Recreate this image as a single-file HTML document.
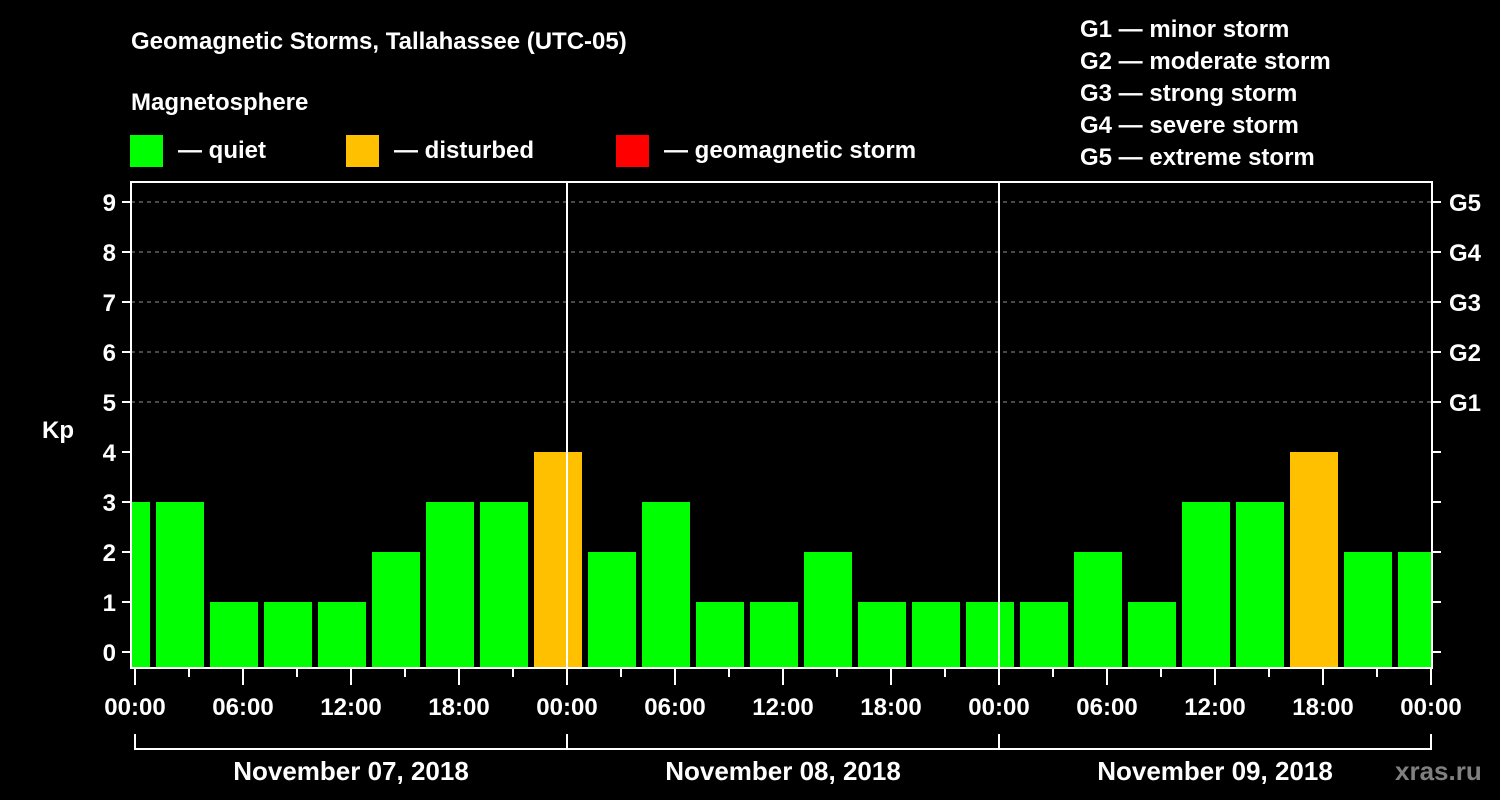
<!DOCTYPE html>
<html><head><meta charset="utf-8"><style>
html,body{margin:0;padding:0;background:#000;}
svg{display:block;font-family:"Liberation Sans",Arial,sans-serif;font-weight:bold;}
</style></head><body>
<svg id="chart" width="1500" height="800" viewBox="0 0 1500 800">
<rect width="1500" height="800" fill="#000"/>
<text x="131" y="49" fill="#fff" font-size="24">Geomagnetic Storms, Tallahassee (UTC-05)</text>
<text x="131" y="110" fill="#fff" font-size="24">Magnetosphere</text>
<g><rect x="130" y="135" width="33" height="32" fill="#00ff00"/><text x="178" y="158" fill="#fff" font-size="24">— quiet</text></g>
<g><rect x="346" y="135" width="33" height="32" fill="#ffc000"/><text x="394" y="158" fill="#fff" font-size="24">— disturbed</text></g>
<g><rect x="616" y="135" width="33" height="32" fill="#ff0000"/><text x="664" y="158" fill="#fff" font-size="24">— geomagnetic storm</text></g>
<g fill="#fff" font-size="24">
<text x="1080" y="37">G1 — minor storm</text>
<text x="1080" y="69">G2 — moderate storm</text>
<text x="1080" y="101">G3 — strong storm</text>
<text x="1080" y="133">G4 — severe storm</text>
<text x="1080" y="165">G5 — extreme storm</text>
</g>
<text x="42" y="438" fill="#fff" font-size="24">Kp</text>
<g id="grid"></g>
<g id="bars"></g>
<g id="axes"></g>
<text x="1395" y="780" fill="#808080" font-size="26">xras.ru</text>
</svg>
<script>
const kpValues = [3,3,1,1,1,2,3,3,4,2,3,1,1,2,1,1,1,1,2,1,3,3,4,2,2];
const startHour = -0.5; // first bar centre, hours from Nov 07 00:00 (local)
const yTicks = [0,1,2,3,4,5,6,7,8,9];
const gLabels = ["G1","G2","G3","G4","G5"];
const xTickLabels = ["00:00","06:00","12:00","18:00","00:00","06:00","12:00","18:00","00:00","06:00","12:00","18:00","00:00"];
const dayLabels = ["November 07, 2018","November 08, 2018","November 09, 2018"];

const NS="http://www.w3.org/2000/svg";
const L=131,R=1432,T=182,B=668;
const x=h=>135+18*h;
const y=v=>652-50*v;
function mk(tag,attrs,parent,text){const e=document.createElementNS(NS,tag);for(const k in attrs)e.setAttribute(k,attrs[k]);if(text!==undefined)e.textContent=text;parent.appendChild(e);return e;}
const grid=document.getElementById('grid'),bars=document.getElementById('bars'),axes=document.getElementById('axes');
const clip=mk('clipPath',{id:'pc'},document.getElementById('chart'));
mk('rect',{x:L+1,y:T,width:R-L-1,height:B-T},clip);
bars.setAttribute('clip-path','url(#pc)');
yTicks.forEach(v=>{
  if(v>=5){const g=mk('line',{x1:L,x2:R,y1:y(v),y2:y(v),stroke:'#909090','stroke-width':1,'stroke-dasharray':'4,4'},grid);
  }
  const t=mk('line',{x1:122,x2:L,y1:y(v),y2:y(v),stroke:'#fff','stroke-width':2},axes);
  
  const t2=mk('line',{x1:R,x2:1441,y1:y(v),y2:y(v),stroke:'#fff','stroke-width':2},axes);
  
  const lb=mk('text',{x:116,y:y(v)+9,fill:'#fff','font-size':24,'text-anchor':'end'},axes,String(v));
  
  if(v>=5){const gl=mk('text',{x:1449,y:y(v)+9,fill:'#fff','font-size':24},axes,gLabels[v-5]);
  }
});
kpValues.forEach((v,i)=>{
  const c=x(startHour+3*i);
  const col=v>=5?'#ff0000':(v>=4?'#ffc000':'#00ff00');
  const r=mk('rect',{x:c-24,y:y(v),width:48,height:B-y(v),fill:col},bars);
  
  
});
const fr=mk('rect',{x:L,y:T,width:R-L,height:B-T,fill:'none',stroke:'#fff','stroke-width':2},axes);

[1,2].forEach(d=>{const l=mk('line',{x1:x(24*d),x2:x(24*d),y1:T,y2:B,stroke:'#fff','stroke-width':2},axes);
});
for(let h=0;h<=72;h+=3){
  const t=mk('line',{x1:x(h),x2:x(h),y1:B,y2:h%6===0?685:677,stroke:'#fff','stroke-width':2},axes);
  
}
xTickLabels.forEach((s,i)=>{const t=mk('text',{x:x(6*i),y:715,fill:'#fff','font-size':24,'text-anchor':'middle'},axes,s);
});
const br=mk('path',{d:`M${x(0)} 734 V749 H${x(72)} V734 M${x(24)} 734 V749 M${x(48)} 734 V749`,fill:'none',stroke:'#fff','stroke-width':2},axes);

dayLabels.forEach((s,i)=>{const t=mk('text',{x:x(24*i+12),y:780,fill:'#fff','font-size':26,'text-anchor':'middle'},axes,s);
});
</script>
</body></html>
